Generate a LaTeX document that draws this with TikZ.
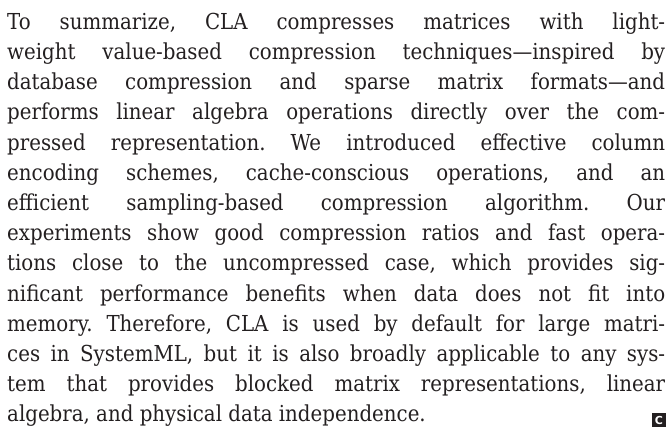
\documentclass[tikz,border=0pt]{standalone}
\usepackage{fontspec}
\setmainfont[FakeStretch=0.9]{DejaVu Serif}
\newfontfamily\iconfont{DejaVu Sans}
\definecolor{inkText}{HTML}{231F20}
\frenchspacing

\begin{document}
\begin{tikzpicture}[
    x=1pt, y=1pt,
    % Style for each justified line of the paragraph
    textLine/.style={
        inner sep=0pt,
        anchor=base west,
        text=inkText,
        font=\fontsize{22}{27}\selectfont
    },
    % Style for the small end mark
    endMark/.style={
        fill=inkText,
        text=white,
        inner sep=0pt,
        minimum size=14pt,
        font=\iconfont\bfseries\fontsize{11}{11}\selectfont
    }
]

    % --- COORDINATES ---
    \useasboundingbox (0,0) rectangle (672,-431);
    \def\lineSkip{30.2}
    \def\firstBase{29.3}
    \def\lineWidth{658pt}

    % --- JUSTIFIED LINES ---
    \foreach \txt [count=\i] in {
        {To summarize, CLA compresses matrices with light-},
        {weight value-based compression techniques---inspired by},
        {database compression and sparse matrix formats---and},
        {performs linear algebra operations directly over the com-},
        {pressed representation. We introduced effective column},
        {encoding schemes, cache-conscious operations, and an},
        {efficient sampling-based compression algorithm. Our},
        {experiments show good compression ratios and fast opera-},
        {tions close to the uncompressed case, which provides sig-},
        {nificant performance benefits when data does not fit into},
        {memory. Therefore, CLA is used by default for large matri-},
        {ces in SystemML, but it is also broadly applicable to any sys-},
        {tem that provides blocked matrix representations, linear}}
        \node[textLine] (line\i) at (7, {-\firstBase-(\i-1)*\lineSkip})
            {\makebox[\lineWidth][s]{\txt}};

    % --- LAST LINE ---
    \node[textLine] (line14) at (7, {-\firstBase-13*\lineSkip})
        {algebra, and physical data independence.};
    \node[endMark] (cMark) at (659,-420) {C};

\end{tikzpicture}
\end{document}
